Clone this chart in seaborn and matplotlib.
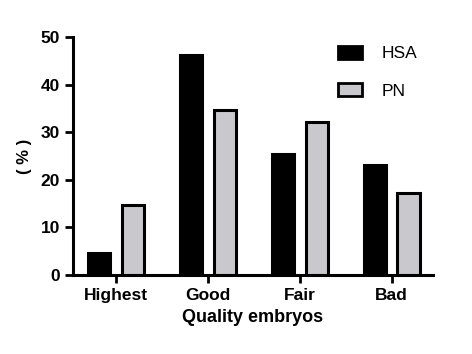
import pandas as pd
import matplotlib.pyplot as plt
import seaborn as sns

categories = ["Highest", "Good", "Fair", "Bad"]
hsa_values = [4.6, 46.2, 25.4, 23.1]
pn_values = [14.8, 34.6, 32.2, 17.2]
series_names = ["HSA", "PN"]

df = pd.DataFrame({
    "quality": categories * 2,
    "group": [series_names[0]] * 4 + [series_names[1]] * 4,
    "pct": hsa_values + pn_values,
})

sns.set_theme(style="ticks")
plt.rcParams["font.family"] = ["Liberation Sans", "DejaVu Sans"]
plt.rcParams.update({"text.color": "black", "axes.labelcolor": "black",
                     "xtick.color": "black", "ytick.color": "black"})

fig = plt.figure(figsize=(4.72, 3.54), dpi=100)
ax = fig.add_axes([0.155, 0.223, 0.762, 0.672])

sns.barplot(
    data=df, x="quality", y="pct", hue="group",
    palette={"HSA": "black", "PN": "#c9c9cd"},
    width=0.74, gap=0.35, edgecolor="black", linewidth=2.2,
    saturation=1, ax=ax,
)

ax.set_ylim(0, 50)
ax.set_yticks([0, 10, 20, 30, 40, 50])
ax.set_xlim(-0.47, 3.45)
sns.despine(ax=ax)
for side in ["left", "bottom"]:
    ax.spines[side].set_linewidth(2.2)
    ax.spines[side].set_color("black")
ax.tick_params(axis="both", width=2, length=6, labelsize=12.5)
for lab in ax.get_xticklabels() + ax.get_yticklabels():
    lab.set_fontweight("bold")

ax.set_xlabel("Quality embryos", fontsize=13, fontweight="bold", labelpad=4)
ax.set_ylabel("( % )", fontsize=12, fontweight="bold", labelpad=6)

leg = ax.legend(loc="upper right", bbox_to_anchor=(1.0, 1.03), frameon=False,
                fontsize=12.5, handlelength=1.4, handleheight=0.8, labelspacing=1.25,
                handletextpad=1.1)
for h in leg.legend_handles:
    h.set_linewidth(2)
    h.set_edgecolor("black")

fig.savefig("out.png", dpi=100)
